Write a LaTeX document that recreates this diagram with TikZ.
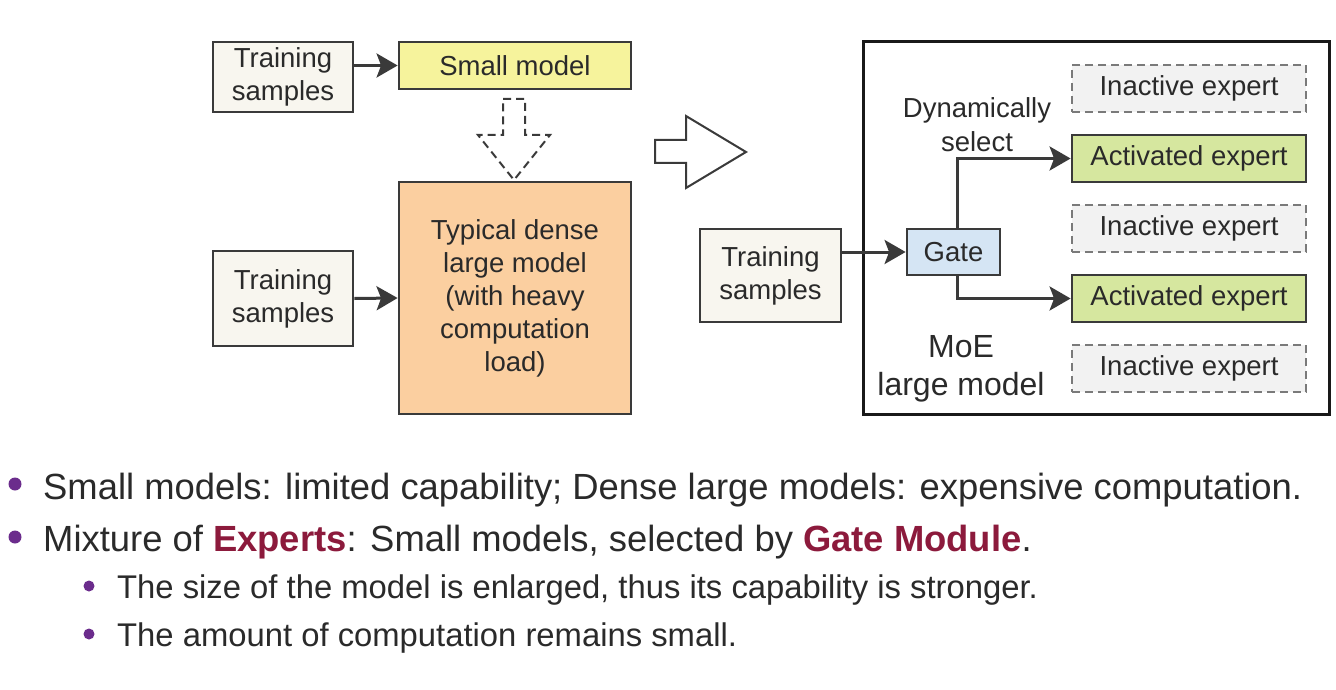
\documentclass[tikz,border=0pt]{standalone}
\usepackage{fontspec}
\setmainfont{Liberation Sans}
\usetikzlibrary{arrows.meta,calc}
\definecolor{edge}{HTML}{3A3A3A}
\definecolor{txt}{HTML}{2A2A2A}
\definecolor{tsfill}{HTML}{F8F6EF}
\definecolor{smallfill}{HTML}{F6F39C}
\definecolor{densefill}{HTML}{FBCFA0}
\definecolor{gatefill}{HTML}{D5E5F4}
\definecolor{actfill}{HTML}{D6E79F}
\definecolor{inactfill}{HTML}{F2F2F2}
\definecolor{inactedge}{HTML}{7A7A7A}
\definecolor{bulletc}{HTML}{6B2C8C}
\definecolor{hl}{HTML}{8C1A3C}
\tikzset{
  box/.style={draw=edge, line width=2.8pt, inner sep=0pt, align=center, text=txt,
              font=\fontsize{27.5}{33}\selectfont},
  tsbox/.style={box, fill=tsfill, minimum width=140pt},
  expbox/.style={box, minimum width=234pt, minimum height=47pt},
  actbox/.style={expbox, fill=actfill},
  inactbox/.style={expbox, fill=inactfill, draw=inactedge, line width=2.5pt, dash pattern=on 8pt off 5pt},
  conn/.style={draw=edge, line width=3pt, -{Stealth[length=21pt,width=24pt,inset=4.5pt]}},
  bigtxt/.style={font=\fontsize{36.4}{40}\selectfont, text=txt, anchor=base west, inner sep=0pt},
  subtxt/.style={font=\fontsize{32.8}{36}\selectfont, text=txt, anchor=base west, inner sep=0pt},
}
\begin{document}
\begin{tikzpicture}[x=1pt,y=-1pt]
\useasboundingbox (0,0) rectangle (1336,690);
\fill[white] (0,0) rectangle (1336,690);

% left part
\node[tsbox, minimum height=70pt] (ts1) at (283,77) {Training\\samples};
\node[box, fill=smallfill, minimum width=232pt, minimum height=47pt] (small) at (515,65.5) {Small model};
\node[box, fill=densefill, minimum width=232pt, minimum height=232pt] (dense) at (515,298)
  {Typical dense\\large model\\(with heavy\\computation\\load)};
\node[tsbox, minimum height=95pt] (ts2) at (283,298.5) {Training\\samples};
\draw[conn] (ts1.east |- small.west) -- (small.west);
\draw[conn] (ts2.east) -- (dense.west);

% dashed block arrow
\draw[draw=edge, line width=2pt, dash pattern=on 8pt off 5pt, line join=miter]
  (503,99) -- (525,99) -- (525,135) -- (550,135) -- (514,180) -- (478,135) -- (503,135) -- cycle;

% hollow block arrow
\draw[draw=edge, line width=2pt, fill=white, line join=miter]
  (655,140) -- (686,140) -- (686,116) -- (746,152) -- (686,188) -- (686,163) -- (655,163) -- cycle;

% MoE part
\node[draw=black!90, line width=3pt, minimum width=466pt, minimum height=372pt, inner sep=0pt] (moe) at (1096,228) {};
\node[tsbox, minimum width=141pt, minimum height=93pt] (ts3) at (770.5,275.5) {Training\\samples};
\node[box, fill=gatefill, minimum width=93pt, minimum height=46pt] (gate) at (953.5,252) {Gate};
\node[inactbox] (in1) at (1189,88.5) {Inactive expert};
\node[actbox] (act1) at (1189,158.5) {Activated expert};
\node[inactbox] (in2) at (1189,228.5) {Inactive expert};
\node[actbox] (act2) at (1189,298.5) {Activated expert};
\node[inactbox] (in3) at (1189,368.5) {Inactive expert};

\coordinate (gtop) at ($(gate.north)+(3.5,0)$);
\coordinate (gbot) at ($(gate.south)+(3.5,0)$);
\draw[conn] (ts3.east |- gate.west) -- (gate.west);
\draw[conn] (gtop) -- (gtop |- act1.west) -- (act1.west);
\draw[conn] (gbot) -- (gbot |- act2.west) -- (act2.west);

\node[align=center, text=txt, font=\fontsize{27.5}{34}\selectfont, inner sep=0pt] (dyn) at (977,125) {Dynamically\\select};
\node[align=center, text=txt, font=\fontsize{32}{38}\selectfont, inner sep=0pt] (moelabel) at (961,369) {MoE\\large model};

% bullets
\fill[bulletc] (15,484) circle (6.5);
\fill[bulletc] (15,537) circle (6.5);
\fill[bulletc] (89,586) circle (5.5);
\fill[bulletc] (89,634) circle (5.5);
\node[bigtxt] (b1) at (43,499) {Small models: limited capability; Dense large models: expensive computation.};
\node[bigtxt] (b2) at (43,551) {Mixture of \textcolor{hl}{\textbf{Experts}}: Small models, selected by \textcolor{hl}{\textbf{Gate Module}}.};
\node[subtxt] (b3) at (117,598) {The size of the model is enlarged, thus its capability is stronger.};
\node[subtxt] (b4) at (117,646) {The amount of computation remains small.};
\end{tikzpicture}
\end{document}
